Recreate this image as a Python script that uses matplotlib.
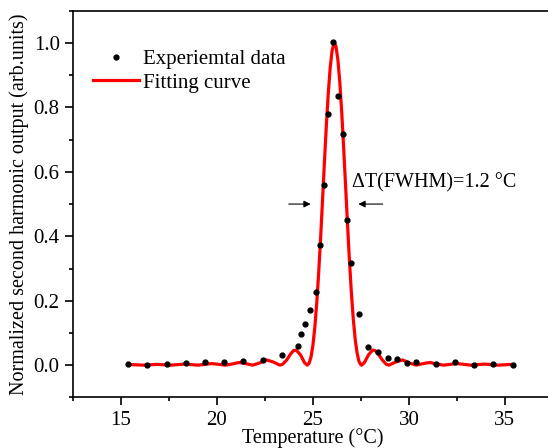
import matplotlib
matplotlib.use("Agg")
import matplotlib.pyplot as plt
from matplotlib.ticker import MultipleLocator

plt.rcParams['font.family'] = ['Liberation Serif', 'DejaVu Serif']
plt.rcParams['mathtext.fontset'] = 'stix'

# experimental points (temperature in C, normalized SH output)
temp_data = [15.38, 16.37, 17.39, 18.39, 19.39, 20.37, 21.38, 22.40, 23.40, 24.20,
             24.38, 24.58, 24.87, 25.16, 25.36, 25.58, 25.78, 26.07, 26.29, 26.58,
             26.75, 26.99, 27.39, 27.88, 28.38, 28.90, 29.39, 29.90, 30.39, 31.39,
             32.39, 33.40, 34.40, 35.40]
shg_data = [0.003, 0.001, 0.004, 0.008, 0.009, 0.009, 0.012, 0.017, 0.032, 0.058,
            0.097, 0.129, 0.170, 0.227, 0.373, 0.559, 0.780, 1.002, 0.836, 0.716,
            0.450, 0.317, 0.159, 0.057, 0.040, 0.022, 0.020, 0.007, 0.010, 0.003,
            0.009, 0.001, 0.004, 0.002]

# fitting curve
temp_fit = [15.40, 15.47, 16.18, 16.89, 17.60, 18.31, 19.02, 19.73, 20.44, 20.80,
            21.15, 21.50, 21.86, 22.22, 22.57, 22.93, 23.28, 23.42, 23.64, 23.85,
            23.99, 24.13, 24.35, 24.56, 24.70, 24.80, 24.90, 25.00, 25.10, 25.20,
            25.30, 25.40, 25.50, 25.60, 25.70, 25.80, 25.90, 26.00, 26.10, 26.12,
            26.20, 26.30, 26.40, 26.50, 26.60, 26.70, 26.80, 26.90, 27.00, 27.10,
            27.20, 27.30, 27.40, 27.50, 27.54, 27.68, 27.90, 28.11, 28.25, 28.39,
            28.61, 28.82, 28.96, 29.32, 29.67, 30.03, 30.38, 30.74, 31.09, 31.45,
            31.80, 32.51, 33.22, 33.93, 34.64, 35.35, 35.45]
shg_fit = [0.0017, 0.0018, 0.0, 0.0024, 0.0, 0.0033, 0.0, 0.0050, 0.0, 0.0036,
           0.0083, 0.0048, 0.0, 0.0067, 0.0162, 0.0100, 0.0, 0.0027, 0.0165, 0.0358,
           0.0450, 0.0467, 0.0324, 0.0080, 0.0, 0.0056, 0.0251, 0.0616, 0.1175, 0.1932,
           0.2861, 0.3939, 0.5105, 0.630, 0.7436, 0.8437, 0.9231, 0.9768, 0.9994, 1.0,
           0.9896, 0.9483, 0.8786, 0.7854, 0.676, 0.5587, 0.4401, 0.3275, 0.228, 0.1456,
           0.0815, 0.0378, 0.0117, 0.0008, 0.0, 0.0080, 0.0324, 0.0467, 0.0450, 0.0358,
           0.0165, 0.0027, 0.0, 0.0100, 0.0162, 0.0067, 0.0, 0.0048, 0.0083, 0.0036,
           0.0, 0.0050, 0.0, 0.0033, 0.0, 0.0024, 0.0020]

fig = plt.figure(figsize=(5.48, 4.48), dpi=100)
ax = fig.add_axes([0.133, 0.113, 0.876, 0.863])

ax.plot(temp_data, shg_data, 'o', color='black', ms=3.5, label='Experiemtal data', zorder=3)
ax.plot(temp_fit, shg_fit, '-', color='#ff0000', lw=2.3, label='Fitting curve', zorder=2)

ax.set_xlim(12.5, 37.5)
ax.set_ylim(-0.1, 1.1)
ax.xaxis.set_major_locator(MultipleLocator(5))
ax.xaxis.set_minor_locator(MultipleLocator(2.5))
ax.yaxis.set_major_locator(MultipleLocator(0.2))
ax.yaxis.set_minor_locator(MultipleLocator(0.1))
ax.tick_params(which='major', direction='out', length=6, width=1.2, labelsize=15)
ax.tick_params(which='minor', direction='out', length=3, width=1.2)
ax.tick_params(axis='x', which='major', pad=3.5)
ax.set_yticks([0.0, 0.2, 0.4, 0.6, 0.8, 1.0])
ax.set_yticklabels(['0.0', '0.2', '0.4', '0.6', '0.8', '1.0'])
for s in ax.spines.values():
    s.set_linewidth(1.2)
ax.spines['right'].set_visible(False)

ax.set_xlabel('Temperature (°C)', fontsize=14.5, labelpad=-1)
ax.set_ylabel('Normalized second harmonic output (arb.units)', fontsize=14.5, labelpad=3)

ax.legend(loc='upper left', bbox_to_anchor=(0.042, 0.90), frameon=False, fontsize=15,
          handlelength=2.2, handletextpad=0.2, labelspacing=0.2, borderaxespad=0,
          borderpad=0)

ax.text(27.03, 0.566, 'ΔT(FWHM)=1.2 °C', fontsize=14.5, va='center', ha='left')
ax.annotate('', xy=(25.03, 0.5), xytext=(23.6, 0.5),
            arrowprops=dict(arrowstyle='-|>', color='black', lw=0.8, mutation_scale=10))
ax.annotate('', xy=(27.22, 0.5), xytext=(28.78, 0.5),
            arrowprops=dict(arrowstyle='-|>', color='black', lw=0.8, mutation_scale=10))

fig.savefig('out.png', dpi=100)
